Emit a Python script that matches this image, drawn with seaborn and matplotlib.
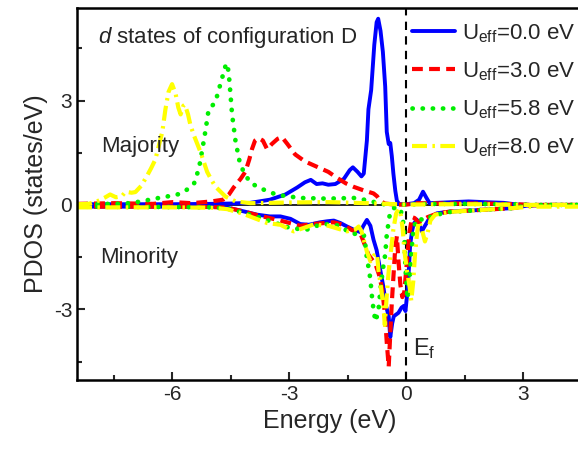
import matplotlib
matplotlib.use("Agg")
import matplotlib.pyplot as plt
from matplotlib.ticker import MultipleLocator
import seaborn as sns
import pandas as pd

# ---- d-state projected DOS, configuration D (energies relative to E_f, eV) ----
u_labels = ["0.0", "3.0", "5.8", "8.0"]

# Majority spin
e_up_u00 = [-8.45, -7.0, -6.0, -5.0, -4.5, -4.0, -3.5, -3.1, -2.8, -2.6, -2.45, -2.3, -2.15, -2.0,
            -1.82, -1.6, -1.45, -1.37, -1.25, -1.15, -1.09, -1.01, -0.97, -0.9, -0.82, -0.76, -0.72,
            -0.66, -0.6, -0.54, -0.5, -0.45, -0.41, -0.37, -0.33, -0.28, -0.24, -0.18, 0.0, 0.2,
            0.33, 0.43, 0.52, 0.6, 0.8, 1.2, 1.6, 2.0, 2.5, 2.85, 3.2, 4.5]
d_up_u00 = [0.02, 0.02, 0.02, 0.03, 0.04, 0.06, 0.15, 0.3, 0.5, 0.65, 0.72, 0.6, 0.62, 0.58,
            0.6, 0.75, 1.0, 1.08, 0.95, 0.82, 0.9, 1.85, 2.75, 3.3, 4.6, 5.25, 5.35,
            5.0, 4.4, 3.4, 2.1, 1.75, 1.78, 1.4, 0.9, 0.4, 0.12, 0.02, 0.02, 0.05,
            0.15, 0.38, 0.2, 0.05, 0.06, 0.08, 0.1, 0.08, 0.06, 0.01, 0.0, 0.0]

e_up_u30 = [-8.45, -7.5, -6.5, -6.0, -5.5, -5.0, -4.7, -4.55, -4.43, -4.25, -4.13, -4.03, -3.96,
            -3.88, -3.79, -3.68, -3.57, -3.45, -3.3, -3.19, -3.05, -2.85, -2.6, -2.3, -2.0, -1.78,
            -1.55, -1.35, -1.1, -0.84, -0.75, -0.67, -0.55, -0.3, 0.0, 0.3, 1.0, 2.0, 2.8, 3.2, 4.5]
d_up_u30 = [0.03, 0.05, 0.03, 0.08, 0.05, 0.1, 0.15, 0.3, 0.5, 0.75, 0.95, 1.3, 1.6,
            1.85, 1.92, 1.85, 1.6, 1.75, 1.9, 1.95, 1.75, 1.45, 1.25, 1.1, 0.95, 0.78,
            0.62, 0.52, 0.42, 0.33, 0.25, 0.12, 0.04, 0.01, 0.01, 0.05, 0.04, 0.04, 0.02, 0.0, 0.0]

e_up_u58 = [-8.45, -7.5, -7.1, -6.8, -6.5, -6.25, -6.0, -5.84, -5.65, -5.45, -5.32, -5.24, -5.15,
            -5.07, -4.98, -4.9, -4.8, -4.7, -4.62, -4.56, -4.52, -4.47, -4.38, -4.26, -4.13, -4.0,
            -3.66, -3.32, -2.72, -2.03, -1.35, -0.92, -0.75, -0.5, 0.0, 0.5, 1.5, 2.8, 3.2, 4.5]
d_up_u58 = [0.02, 0.03, 0.05, 0.1, 0.17, 0.22, 0.27, 0.31, 0.42, 0.6, 1.05, 1.55, 2.15,
            2.75, 2.85, 2.95, 3.35, 3.75, 4.07, 3.85, 3.3, 2.6, 1.82, 1.15, 0.87, 0.63,
            0.44, 0.29, 0.2, 0.18, 0.2, 0.12, 0.05, 0.01, 0.01, 0.03, 0.03, 0.02, 0.0, 0.0]

e_up_u80 = [-8.45, -8.15, -7.9, -7.72, -7.6, -7.45, -7.3, -7.2, -7.05, -6.95, -6.8, -6.66, -6.55,
            -6.44, -6.35, -6.26, -6.18, -6.1, -6.01, -5.92, -5.85, -5.79, -5.72, -5.68, -5.6,
            -5.54, -5.45, -5.28, -5.11, -5.0, -4.9, -4.64, -4.38, -4.0, -3.0, -2.0, -1.0, -0.5,
            0.0, 1.0, 2.0, 3.0, 4.5]
d_up_u80 = [0.02, 0.03, 0.12, 0.22, 0.3, 0.22, 0.25, 0.38, 0.35, 0.37, 0.55, 0.82, 1.05,
            1.3, 1.7, 2.1, 2.75, 3.25, 3.47, 3.2, 2.8, 2.6, 2.85, 2.88, 2.6,
            2.3, 2.0, 1.52, 0.95, 0.72, 0.53, 0.24, 0.1, 0.05, 0.07, 0.08, 0.05, 0.03,
            0.01, 0.02, 0.02, 0.0, 0.0]

# Minority spin
e_dn_u00 = [-8.45, -7.0, -6.0, -5.0, -4.68, -4.3, -3.83, -3.5, -3.23, -2.97, -2.72, -2.5, -2.21,
            -2.03, -1.86, -1.69, -1.52, -1.35, -1.18, -1.1, -1.01, -0.92, -0.84, -0.76, -0.67,
            -0.58, -0.52, -0.45, -0.41, -0.36, -0.32, -0.2, -0.12, -0.06, -0.02, 0.03, 0.07, 0.1,
            0.15, 0.19, 0.27, 0.33, 0.4, 0.48, 0.57, 0.7, 0.79, 1.13, 1.98, 2.75, 3.1, 3.5, 4.5]
d_dn_u00 = [-0.05, -0.05, -0.05, -0.05, -0.06, -0.15, -0.28, -0.33, -0.33, -0.4, -0.55, -0.57, -0.5,
            -0.47, -0.45, -0.52, -0.62, -0.71, -0.78, -0.6, -0.43, -0.6, -1.0, -1.3, -1.85,
            -2.4, -2.9, -3.2, -3.8, -3.4, -3.2, -3.1, -2.95, -2.9, -3.05, -2.5, -1.8, -1.15,
            -0.75, -0.55, -0.42, -0.55, -0.76, -0.6, -0.43, -0.3, -0.24, -0.19, -0.14, -0.09, -0.02, 0.0, 0.0]

e_dn_u30 = [-8.45, -6.0, -5.0, -4.6, -4.2, -3.8, -3.23, -2.72, -2.4, -2.1, -1.86, -1.6, -1.4,
            -1.18, -1.08, -0.97, -0.79, -0.7, -0.62, -0.55, -0.5, -0.45, -0.41, -0.37, -0.32,
            -0.28, -0.24, -0.2, -0.15, -0.1, -0.05, 0.02, 0.08, 0.15, 0.22, 0.3, 0.4, 0.55, 0.79,
            1.13, 1.98, 2.75, 3.1, 3.5, 4.5]
d_dn_u30 = [-0.05, -0.05, -0.06, -0.08, -0.18, -0.3, -0.45, -0.6, -0.55, -0.52, -0.5, -0.58, -0.72,
            -0.81, -1.1, -1.43, -1.7, -2.0, -2.4, -3.1, -3.95, -4.65, -3.7, -2.8, -1.9,
            -1.2, -0.9, -1.6, -2.3, -2.65, -2.5, -1.6, -0.8, -0.35, -0.38, -0.5, -0.45, -0.35, -0.25,
            -0.19, -0.14, -0.09, -0.02, 0.0, 0.0]

e_dn_u58 = [-8.45, -6.0, -5.0, -4.6, -4.2, -3.8, -3.4, -2.97, -2.55, -2.3, -2.0, -1.7, -1.44,
            -1.2, -1.09, -1.05, -1.01, -0.95, -0.92, -0.88, -0.84, -0.79, -0.74, -0.7, -0.67,
            -0.6, -0.54, -0.5, -0.45, -0.41, -0.3, -0.15, -0.06, -0.02, 0.03, 0.08, 0.12, 0.15,
            0.19, 0.32, 0.45, 0.7, 1.13, 1.98, 2.75, 3.1, 3.5, 4.5]
d_dn_u58 = [-0.05, -0.06, -0.07, -0.1, -0.22, -0.35, -0.5, -0.67, -0.71, -0.6, -0.55, -0.6, -0.81,
            -0.85, -0.85, -1.14, -1.53, -1.91, -2.15, -2.63, -3.01, -3.35, -3.15, -2.9, -2.5,
            -1.85, -1.43, -0.86, -0.47, -0.19, -0.08, -0.1, -0.6, -1.8, -2.7, -2.3, -1.5, -1.14,
            -0.62, -0.38, -0.45, -0.3, -0.2, -0.14, -0.09, -0.02, 0.0, 0.0]

e_dn_u80 = [-8.45, -6.0, -5.0, -4.6, -4.2, -3.57, -3.23, -2.89, -2.6, -2.38, -2.0, -1.52, -1.3,
            -1.22, -1.15, -1.01, -0.92, -0.83, -0.75, -0.71, -0.67, -0.62, -0.58, -0.55, -0.5,
            -0.45, -0.4, -0.33, -0.26, -0.2, -0.14, -0.09, -0.05, 0.02, 0.08, 0.13, 0.18, 0.23,
            0.28, 0.32, 0.4, 0.48, 0.55, 0.62, 0.74, 1.13, 2.0, 2.75, 3.2, 4.5]
d_dn_u80 = [-0.07, -0.07, -0.08, -0.12, -0.25, -0.52, -0.57, -0.76, -0.65, -0.56, -0.6, -0.76, -0.7,
            -0.62, -0.75, -1.34, -1.62, -1.45, -1.4, -1.9, -2.2, -2.6, -3.0, -3.45, -2.6,
            -1.9, -1.4, -0.7, -0.25, -0.12, -0.3, -0.7, -1.3, -1.9, -2.3, -2.75, -2.2, -1.34,
            -0.8, -0.47, -0.7, -1.05, -0.8, -0.45, -0.28, -0.2, -0.14, -0.09, -0.05, -0.05]

energies = {"0.0": (e_up_u00, e_dn_u00), "3.0": (e_up_u30, e_dn_u30),
            "5.8": (e_up_u58, e_dn_u58), "8.0": (e_up_u80, e_dn_u80)}
dos = {"0.0": (d_up_u00, d_dn_u00), "3.0": (d_up_u30, d_dn_u30),
       "5.8": (d_up_u58, d_dn_u58), "8.0": (d_up_u80, d_dn_u80)}

colors = {"0.0": "#0000FF", "3.0": "#FF0000", "5.8": "#00EE00", "8.0": "#FFFF00"}
styles = {"0.0": dict(linestyle="-", lw=2.8),
          "3.0": dict(linestyle=(0, (2.6, 1.5)), lw=3.0),
          "5.8": dict(linestyle=(0, (0.05, 2.1)), lw=3.4, dash_capstyle="round"),
          "8.0": dict(linestyle=(0, (3.6, 1.3, 0.6, 1.3)), lw=3.0)}

rows = []
for u in u_labels:
    for spin, e_list, d_list in (("up", energies[u][0], dos[u][0]), ("down", energies[u][1], dos[u][1])):
        for e, d in zip(e_list, d_list):
            rows.append({"Ueff": u, "spin": spin, "energy": e, "pdos": d})
df = pd.DataFrame(rows)

sns.set_style("ticks", {"axes.spines.top": True, "axes.spines.right": True})
plt.rcParams["font.family"] = ["Liberation Sans", "DejaVu Sans"]
plt.rcParams["mathtext.fontset"] = "custom"
plt.rcParams["mathtext.rm"] = "Liberation Sans"
plt.rcParams["mathtext.it"] = "Liberation Sans:italic"
plt.rcParams["axes.unicode_minus"] = False

fig = plt.figure(figsize=(5.78, 4.5), dpi=100)
ax = fig.add_axes([0.1332, 0.1556, 0.873, 0.826])

# reference lines: zero DOS and Fermi level
ax.axhline(0, color="black", lw=1.2, zorder=1)
ax.axvline(0, color="black", lw=1.5, linestyle=(0, (4, 3)), zorder=1)

for u in u_labels:
    for spin in ("up", "down"):
        sub = df[(df.Ueff == u) & (df.spin == spin)]
        sns.lineplot(data=sub, x="energy", y="pdos", ax=ax, color=colors[u],
                     estimator=None, sort=False,
                     label=(r"U$_{\mathregular{eff}}$=" + u + " eV") if spin == "up" else None,
                     zorder=3, **styles[u])

ax.set_xlim(-8.45, 4.5)
ax.set_ylim(-5.03, 5.65)
ax.xaxis.set_major_locator(MultipleLocator(3))
ax.xaxis.set_minor_locator(MultipleLocator(1.5))
ax.yaxis.set_major_locator(MultipleLocator(3))
ax.yaxis.set_minor_locator(MultipleLocator(1.5))
ax.tick_params(which="both", direction="in", width=1.5, top=False, right=False, labelsize=15)
ax.tick_params(which="major", length=6)
ax.tick_params(which="minor", length=3.5)
for s in ax.spines.values():
    s.set_linewidth(1.8)
    s.set_visible(True)
    s.set_color("black")
    s.set_zorder(5)

ax.set_xlabel("Energy (eV)", fontsize=18, labelpad=4)
ax.set_ylabel("PDOS (states/eV)", fontsize=18, labelpad=4)

ax.text(-7.92, 4.66, r"$\mathit{d}$ states of configuration D", fontsize=16)
ax.text(-7.82, 1.53, "Majority", fontsize=16)
ax.text(-7.85, -1.67, "Minority", fontsize=16)
ax.text(0.18, -4.31, r"E$_{\mathregular{f}}$", fontsize=17)

leg = ax.legend(loc="upper left", bbox_to_anchor=(0.655, 0.975), frameon=False,
                fontsize=16, handlelength=1.95, handletextpad=0.3, labelspacing=0.7,
                borderaxespad=0, borderpad=0.2)

fig.savefig("out.png", dpi=100)
